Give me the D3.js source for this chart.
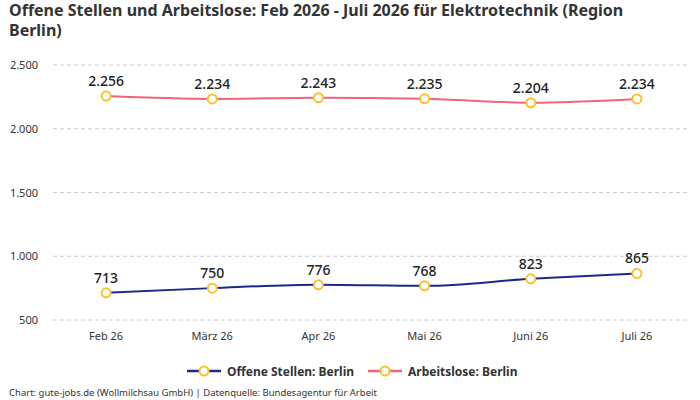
<!DOCTYPE html>
<html lang="de">
<head>
<meta charset="utf-8">
<title>Offene Stellen und Arbeitslose</title>
<script src="https://cdn.jsdelivr.net/npm/d3@7"></script>
<style>
  body { margin: 0; background: #fff; }
  svg text { font-family: "Noto Sans", "Open Sans", sans-serif; }
</style>
</head>
<body>
<script>
// data
var months = ["Feb 26", "März 26", "Apr 26", "Mai 26", "Juni 26", "Juli 26"];
var offeneStellen = [713, 750, 776, 768, 823, 865];
var arbeitslose = [2256, 2234, 2243, 2235, 2204, 2234];
var yTicks = [500, 1000, 1500, 2000, 2500];
var seriesNames = ["Offene Stellen: Berlin", "Arbeitslose: Berlin"];
var seriesColors = ["#1b2a8a", "#f2647c"];
var titleLines = ["Offene Stellen und Arbeitslose: Feb 2026 - Juli 2026 für Elektrotechnik (Region", "Berlin)"];

var w = 700, h = 400;
var de = d3.formatLocale({decimal: ",", thousands: ".", grouping: [3], currency: ["", "€"]});
var fmt = de.format(",d");

var svg = d3.select("body").append("svg")
  .attr("width", w).attr("height", h);

// title, two lines as separate texts
svg.selectAll("text.title").data(titleLines).enter().append("text")
  .attr("class", "title")
  .attr("x", 9).attr("y", function(d, i) { return 16 + i * 20; })
  .attr("font-size", "16px").attr("font-weight", "bold").attr("fill", "#333")
  .text(function(d) { return d; });

var x = d3.scaleBand().domain(months).range([53, 690]);
var y = d3.scaleLinear().domain([500, 2500]).range([320, 65]);

// grid
svg.selectAll("line.grid").data(yTicks).enter().append("line")
  .attr("class", "grid")
  .attr("x1", 53).attr("x2", 688)
  .attr("y1", function(d) { return y(d); })
  .attr("y2", function(d) { return y(d); })
  .attr("stroke", "#ccc").attr("stroke-dasharray", "4,3");

// y labels
svg.selectAll("text.ytick").data(yTicks).enter().append("text")
  .attr("class", "ytick")
  .attr("x", 38).attr("y", function(d) { return y(d) + 4; })
  .attr("text-anchor", "end").attr("font-size", "11px").attr("fill", "#333")
  .text(function(d) { return fmt(d); });

// x labels
svg.selectAll("text.xtick").data(months).enter().append("text")
  .attr("class", "xtick")
  .attr("x", function(d) { return x(d) + x.bandwidth() / 2; })
  .attr("y", 340)
  .attr("text-anchor", "middle").attr("font-size", "11px").attr("fill", "#333")
  .text(function(d) { return d; });

var cx = function(d, i) { return x(months[i]) + x.bandwidth() / 2; };
var line = d3.line()
  .x(cx)
  .y(function(d) { return y(d); })
  .curve(d3.curveMonotoneX);

[offeneStellen, arbeitslose].forEach(function(vals, s) {
  svg.append("path").datum(vals)
    .attr("d", line)
    .attr("fill", "none")
    .attr("stroke", seriesColors[s])
    .attr("stroke-width", 2);

  svg.selectAll("circle.s" + s).data(vals).enter().append("circle")
    .attr("class", "s" + s)
    .attr("cx", cx)
    .attr("cy", function(d) { return y(d); })
    .attr("r", 4.5)
    .attr("fill", "#fff")
    .attr("stroke", "#fbc02d")
    .attr("stroke-width", 2);

  svg.selectAll("text.l" + s).data(vals).enter().append("text")
    .attr("class", "l" + s)
    .attr("x", cx)
    .attr("y", function(d) { return y(d) - 10; })
    .attr("text-anchor", "middle")
    .attr("font-size", "14px").attr("font-weight", 500).attr("fill", "#222")
    .text(function(d) { return fmt(d); });
});

// legend
var legX = [187, 368];
seriesNames.forEach(function(name, s) {
  var g = svg.append("g").attr("transform", "translate(" + legX[s] + ",371)");
  g.append("line").attr("x1", 0).attr("x2", 34).attr("y1", 0).attr("y2", 0)
    .attr("stroke", seriesColors[s]).attr("stroke-width", 2.5);
  g.append("circle").attr("cx", 17).attr("cy", 0).attr("r", 4.5)
    .attr("fill", "#fff").attr("stroke", "#fbc02d").attr("stroke-width", 2);
  g.append("text").attr("x", 40).attr("y", 4.5)
    .attr("font-size", "12px").attr("font-weight", "bold").attr("fill", "#333")
    .text(name);
});

// footer
svg.append("text")
  .attr("x", 9).attr("y", 396)
  .attr("font-size", "9.5px").attr("fill", "#333")
  .text("Chart: gute-jobs.de (Wollmilchsau GmbH) | Datenquelle: Bundesagentur für Arbeit");
</script>
</body>
</html>
